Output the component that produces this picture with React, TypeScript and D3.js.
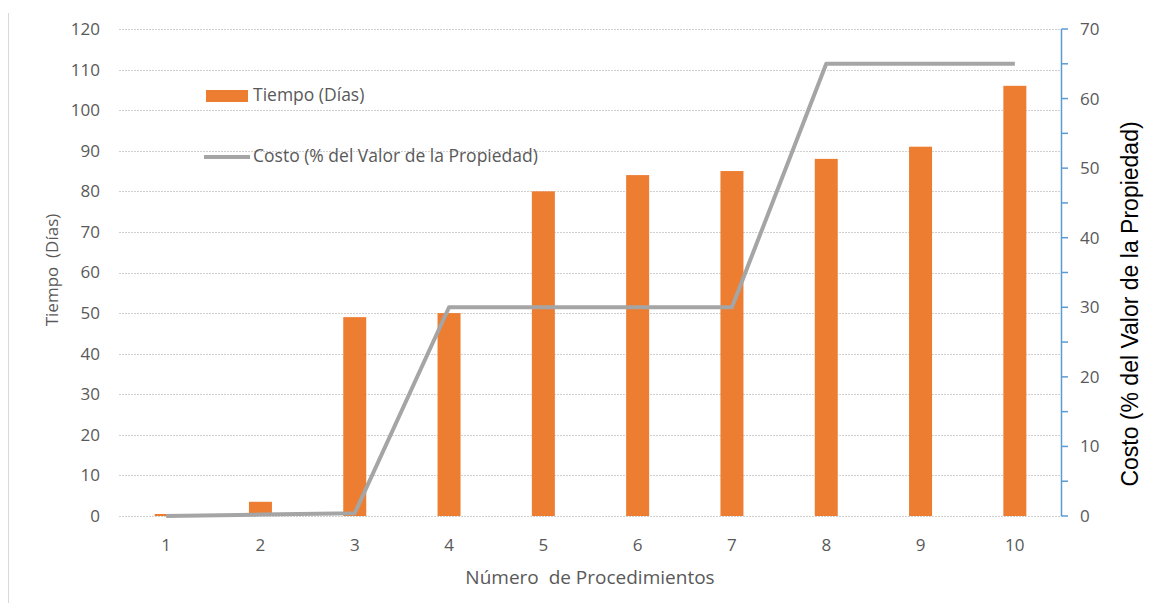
import React from "react";
import * as d3 from "d3";

const categories = ["1", "2", "3", "4", "5", "6", "7", "8", "9", "10"];
const tiempoDias = [0.5, 3.5, 49, 50, 80, 84, 85, 88, 91, 106];
const costoPct = [0, 0.2, 0.4, 30, 30, 30, 30, 65, 65, 65];
const leftTicks = [0, 10, 20, 30, 40, 50, 60, 70, 80, 90, 100, 110, 120];
const rightTicks = [0, 10, 20, 30, 40, 50, 60, 70];
const rightMinorTicks = [5, 15, 25, 35, 45, 55, 65];

const W = 1149;
const H = 603;
const plot = { left: 119, right: 1062, top: 29, bottom: 516 };
const FONT = "'Open Sans', 'Liberation Sans', sans-serif";
const TXT = "#595959";

export default function App() {
  const x = d3.scaleBand<string>().domain(categories).range([plot.left, plot.right]).paddingInner(0).paddingOuter(0);
  const yL = d3.scaleLinear().domain([0, 120]).range([plot.bottom, plot.top]);
  const yR = d3.scaleLinear().domain([0, 70]).range([plot.bottom, plot.top]);
  const barW = 23;
  const cx = (c: string) => (x(c) as number) + x.bandwidth() / 2;
  const line = d3
    .line<number>()
    .x((_, i) => cx(categories[i]))
    .y((d) => yR(d));

  return (
    <svg width={W} height={H} style={{ position: "absolute", left: 0, top: 0, background: "#fff" }}>
      <rect x={0} y={0} width={W} height={H} fill="#fff" />
      <line x1={8.5} x2={8.5} y1={13} y2={H} stroke="#d9d9d9" strokeWidth={1} />
      {/* gridlines */}
      {leftTicks.map((t) => (
        <line
          key={"g" + t}
          x1={plot.left}
          x2={plot.right}
          y1={Math.round(yL(t)) + 0.5}
          y2={Math.round(yL(t)) + 0.5}
          stroke="#d0d0d0"
          strokeWidth={1}
          strokeDasharray="2,1"
        />
      ))}
      {/* left tick labels */}
      {leftTicks.map((t) => (
        <text
          key={"l" + t}
          x={100}
          y={yL(t)}
          dy="0.35em"
          textAnchor="end"
          fontFamily={FONT}
          fontSize={17}
          fill={TXT}
        >
          {t}
        </text>
      ))}
      {/* bars */}
      {tiempoDias.map((v, i) => (
        <rect
          key={"b" + i}
          x={cx(categories[i]) - barW / 2}
          y={yL(v)}
          width={barW}
          height={yL(0) - yL(v)}
          fill="#ed7d31"
        />
      ))}
      {/* line */}
      <path d={line(costoPct) || ""} fill="none" stroke="#a5a5a5" strokeWidth={4} strokeLinejoin="round" />
      {/* right axis */}
      <line x1={plot.right - 0.5} x2={plot.right - 0.5} y1={plot.top} y2={plot.bottom} stroke="#5b9bd5" strokeWidth={1.5} />
      {rightTicks.concat(rightMinorTicks).map((t) => (
        <line
          key={"rt" + t}
          x1={plot.right - 0.5}
          x2={plot.right + 6}
          y1={yR(t)}
          y2={yR(t)}
          stroke="#5b9bd5"
          strokeWidth={1.5}
        />
      ))}
      {rightTicks.map((t) => (
        <text key={"r" + t} x={1080} y={yR(t)} dy="0.35em" textAnchor="start" fontFamily={FONT} fontSize={17} fill={TXT}>
          {t}
        </text>
      ))}
      {/* x labels */}
      {categories.map((c) => (
        <text key={"x" + c} x={cx(c)} y={545} dy="0.35em" textAnchor="middle" fontFamily={FONT} fontSize={17} fill={TXT}>
          {c}
        </text>
      ))}
      {/* axis titles */}
      <text x={590} y={577} dy="0.35em" textAnchor="middle" fontFamily={FONT} fontSize={19} fill={TXT} xmlSpace="preserve">
        {"Número  de Procedimientos"}
      </text>
      <text
        transform="translate(52,270) rotate(-90)"
        dy="0.35em"
        textAnchor="middle"
        fontFamily={FONT}
        fontSize={17}
        fill={TXT}
        xmlSpace="preserve"
      >
        {"Tiempo  (Días)"}
      </text>
      <text
        transform="translate(1138,304) rotate(-90)"
        textAnchor="middle"
        fontFamily="'Liberation Sans', Arial, sans-serif"
        fontSize={23}
        fill="#000"
      >
        Costo (% del Valor de la Propiedad)
      </text>
      {/* legend */}
      <rect x={206} y={90} width={42} height={12} fill="#ed7d31" />
      <text x={253} y={95} dy="0.35em" fontFamily={FONT} fontSize={17.5} fill={TXT}>
        Tiempo (Días)
      </text>
      <line x1={204} x2={250} y1={157} y2={157} stroke="#a5a5a5" strokeWidth={4} />
      <text x={253} y={156} dy="0.35em" fontFamily={FONT} fontSize={17.5} fill={TXT}>
        Costo (% del Valor de la Propiedad)
      </text>
    </svg>
  );
}
